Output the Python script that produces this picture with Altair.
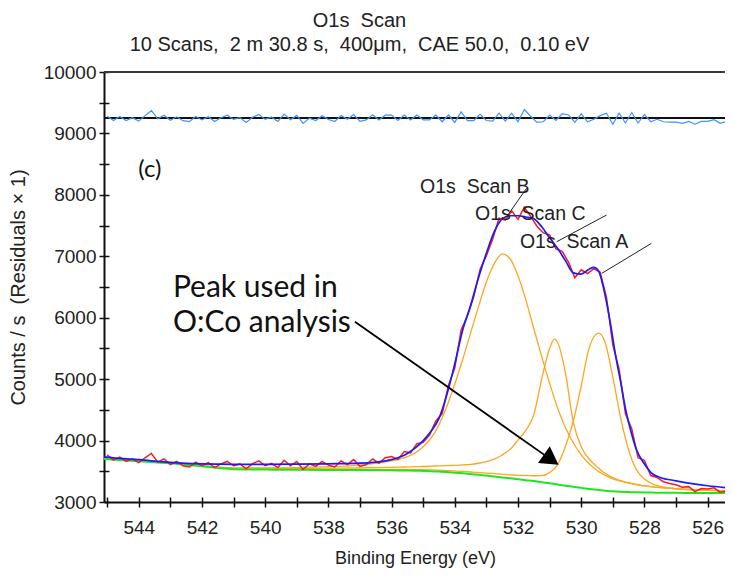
import altair as alt
import pandas as pd

# ---------------- data ----------------
X_TICKS = [545, 544, 543, 542, 541, 540, 539, 538, 537, 536, 535, 534, 533, 532, 531, 530, 529, 528, 527, 526]
Y_TICKS = [3000, 3500, 4000, 4500, 5000, 5500, 6000, 6500, 7000, 7500, 8000, 8500, 9000, 9500, 10000]

GRID = [545.1, 544, 543, 542, 541, 540, 539, 538, 537, 536.5, 536, 535.75, 535.5, 535.25, 535,
        534.75, 534.5, 534.25, 534, 533.75, 533.5, 533.25, 533, 532.75, 532.5, 532.25, 532,
        531.75, 531.5, 531.25, 531, 530.75, 530.5, 530.25, 530, 529.75, 529.5, 529.25, 529,
        528.75, 528.5, 528.25, 528, 527.75, 527.5, 527, 526.5, 526, 525.45]

BACKGROUND = [3700, 3665, 3630, 3580, 3535, 3528, 3525, 3522, 3520, 3518, 3515, 3513, 3512, 3510, 3505,
              3500, 3495, 3487, 3478, 3467, 3455, 3442, 3430, 3415, 3400, 3385, 3370,
              3355, 3340, 3322, 3305, 3285, 3265, 3247, 3230, 3213, 3198, 3185, 3174,
              3167, 3162, 3158, 3155, 3153, 3151, 3149, 3147, 3146, 3145]

PEAK_B = [3710, 3675, 3640, 3590, 3555, 3555, 3560, 3575, 3600, 3630, 3670, 3700, 3740, 3800, 3900,
          4040, 4260, 4560, 4920, 5320, 5750, 6180, 6580, 6880, 7040, 6960, 6682,
          6287, 5820, 5367, 4934, 4534, 4213, 3964, 3766, 3622, 3513, 3438, 3377,
          3339, 3306, 3283, 3262, 3246, 3233, 3216, 3200, 3190, 3182]

C_E = [545.1, 544, 543, 542, 541, 540, 539, 538, 537, 536.5, 536, 535.75, 535.5, 535.25, 535,
       534.75, 534.5, 534.25, 534, 533.75, 533.5, 533.25, 533, 532.75, 532.5, 532.25, 532,
       531.75, 531.5, 531.25, 531, 530.85, 530.75, 530.5, 530.25, 530, 529.75, 529.5, 529.25, 529,
       528.75, 528.5, 528.25, 528, 527.75, 527.5, 527, 526.5, 526, 525.45]
PEAK_C = [3707, 3673, 3639, 3591, 3549, 3545, 3546, 3550, 3555, 3560, 3565, 3567, 3571, 3576, 3578,
          3583, 3589, 3593, 3596, 3604, 3611, 3631, 3659, 3698, 3766, 3857, 4007,
          4170, 4420, 5000, 5500, 5650, 5600, 5106, 4300, 3900, 3700, 3576, 3468, 3398,
          3349, 3314, 3285, 3263, 3247, 3233, 3215, 3203, 3193, 3185]

A_E = [545.1, 544, 543, 542, 541, 540, 539, 538, 537, 536.5, 536, 535.75, 535.5, 535.25, 535,
       534.75, 534.5, 534.25, 534, 533.75, 533.5, 533.25, 533, 532.75, 532.5, 532.25, 532,
       531.75, 531.5, 531.25, 531, 530.75, 530.5, 530.25, 530, 529.75, 529.45, 529.25, 529,
       528.75, 528.5, 528.25, 528, 527.75, 527.5, 527, 526.5, 526, 525.45]
PEAK_A = [3705, 3670, 3636, 3588, 3543, 3536, 3535, 3532, 3533, 3531, 3530, 3530, 3530, 3528, 3525,
          3522, 3518, 3512, 3506, 3497, 3488, 3480, 3471, 3461, 3451, 3442, 3434,
          3432, 3427, 3429, 3478, 3604, 3903, 4318, 4888, 5508, 5750, 5608, 5036,
          4364, 3847, 3523, 3374, 3296, 3253, 3218, 3198, 3188, 3178]

ENV_E = [545.1, 544.5, 544, 543.5, 543, 542.5, 542, 541, 540, 539, 538, 537, 536.5, 536, 535.5,
         535.25, 535, 534.75, 534.5, 534.25, 534, 533.75, 533.5, 533.25, 533, 532.75, 532.5,
         532.25, 532, 531.75, 531.5, 531.25, 531, 530.75, 530.5, 530.25, 530, 529.75, 529.6,
         529.45, 529.3, 529.1, 528.9, 528.75, 528.6, 528.4, 528.25, 528, 527.75, 527.5, 527,
         526.5, 526, 525.45]
ENVELOPE = [3735, 3705, 3690, 3665, 3645, 3630, 3620, 3612, 3612, 3615, 3622, 3632, 3650, 3690, 3790,
            3880, 4000, 4150, 4360, 4750, 5250, 5800, 6200, 6650, 7050, 7400, 7610,
            7660, 7660, 7640, 7610, 7480, 7300, 7130, 6930, 6730, 6710, 6790, 6820,
            6760, 6500, 5980, 5350, 4950, 4520, 4100, 3850, 3620, 3460, 3400, 3345,
            3300, 3265, 3235]

# raw counts every 0.2 eV from 545.0 eV downwards
RAW_COUNTS = [3770, 3680, 3730, 3660, 3700, 3640, 3720, 3790, 3650, 3700,
              3610, 3660, 3590, 3570, 3650, 3590, 3640, 3560, 3620, 3660,
              3590, 3620, 3540, 3625, 3670, 3590, 3630, 3560, 3680, 3590,
              3660, 3530, 3620, 3580, 3660, 3600, 3570, 3670, 3610, 3690,
              3580, 3610, 3700, 3630, 3720, 3740, 3690, 3820, 3800, 3950,
              3970, 4090, 4320, 4440, 4900, 5180, 5800, 6030, 6340, 6790,
              7010, 7280, 7620, 7590, 7740, 7600, 7800, 7650, 7490, 7380,
              7350, 7120, 7080, 6900, 6650, 6780, 6720, 6800, 6740, 6330,
              5560, 5160, 4440, 4190, 3720, 3680, 3430, 3400, 3330, 3300,
              3280, 3240, 3250, 3170, 3220, 3210, 3230, 3160, 3180]

RESIDUALS = [9280, 9210, 9275, 9210, 9255, 9200, 9290, 9370, 9238, 9295,
             9215, 9270, 9207, 9192, 9276, 9220, 9272, 9194, 9255, 9296,
             9228, 9258, 9178, 9263, 9308, 9228, 9267, 9196, 9315, 9224,
             9293, 9162, 9250, 9209, 9288, 9226, 9194, 9292, 9230, 9308,
             9196, 9220, 9302, 9220, 9297, 9300, 9210, 9300, 9220, 9300,
             9220, 9220, 9300, 9190, 9300, 9180, 9350, 9210, 9210, 9310,
             9210, 9200, 9330, 9200, 9330, 9190, 9390, 9280, 9180, 9190,
             9300, 9210, 9320, 9300, 9180, 9320, 9190, 9230, 9290, 9330,
             9150, 9330, 9170, 9340, 9170, 9310, 9190, 9230, 9190, 9185,
             9185, 9165, 9195, 9150, 9195, 9195, 9225, 9165, 9195]
RESIDUAL_ZERO = 9250

LABEL_TEXT = ["O1s\u00a0 Scan B", "O1s\u00a0 Scan C", "O1s\u00a0 Scan A"]
LABEL_E = [535.1, 533.36, 531.94]
LABEL_V = [8127, 7687, 7231]
LEADER_E1 = [531.73, 529.2, 527.78]
LEADER_V1 = [8107, 7671, 7210]
LEADER_E2 = [532.36, 530.78, 529.35]
LEADER_V2 = [7643, 7236, 6722]

NOTE_LINES = ["Peak used in", "O:Co analysis"]
NOTE_E = [542.92, 542.92]
NOTE_V = [6340, 5772]
PANEL_TAG = "(c)"
TAG_E, TAG_V = 543.65, 8404
ARROW_E = [537.16, 530.95]
ARROW_V = [5933, 3690]

TITLE = "O1s\u00a0 Scan"
SUBTITLE = "10 Scans,\u00a0 2 m 30.8 s,\u00a0 400μm,\u00a0 CAE 50.0,\u00a0 0.10 eV"

# ---------------- tables ----------------
raw_E = [round(545.0 - 0.2 * i, 1) for i in range(len(RAW_COUNTS))]
res_E = [round(545.0 - 0.2 * i, 1) for i in range(len(RESIDUALS))]

df_bg = pd.DataFrame({"E": GRID, "V": BACKGROUND})
df_peaks = pd.concat([
    pd.DataFrame({"E": GRID, "V": PEAK_B, "peak": "B"}),
    pd.DataFrame({"E": C_E, "V": PEAK_C, "peak": "C"}),
    pd.DataFrame({"E": A_E, "V": PEAK_A, "peak": "A"}),
])
df_env = pd.DataFrame({"E": ENV_E, "V": ENVELOPE})
df_raw = pd.DataFrame({"E": raw_E, "V": RAW_COUNTS})
df_res = pd.DataFrame({"E": res_E, "V": RESIDUALS})
df_lab = pd.DataFrame({"E": LABEL_E, "V": LABEL_V, "t": LABEL_TEXT})
df_lead = pd.DataFrame({"E": LEADER_E1, "V": LEADER_V1, "E2": LEADER_E2, "V2": LEADER_V2})
df_note = pd.DataFrame({"E": NOTE_E, "V": NOTE_V, "t": NOTE_LINES})
df_tag = pd.DataFrame({"E": [TAG_E], "V": [TAG_V], "t": [PANEL_TAG]})
df_arrow = pd.DataFrame({"E": [ARROW_E[0]], "V": [ARROW_V[0]], "E2": [ARROW_E[1]], "V2": [ARROW_V[1]]})
df_head = pd.DataFrame({"E": [ARROW_E[1]], "V": [ARROW_V[1]]})

# ---------------- scales & axes ----------------
FONT = "Liberation Sans"
xs = alt.Scale(domain=[525.45, 545.1], reverse=True, nice=False, zero=False)
ys = alt.Scale(domain=[3000, 10000], nice=False, zero=False)

x_main = alt.Axis(orient="bottom", values=X_TICKS, format="d",
                  labelExpr="datum.value % 2 == 0 ? datum.label : ''",
                  tickSize=5, tickWidth=1.5, tickColor="#111", domainColor="#111", domainWidth=2,
                  labelFont=FONT, labelFontSize=19, labelColor="#222", labelPadding=11,
                  labelOverlap=False, labelFlush=False, grid=False,
                  title="Binding Energy (eV)", titleFont=FONT, titleFontSize=18,
                  titleFontWeight="normal", titleColor="#222", titleX=311, titleY=56,
                  titleAlign="center", titleBaseline="middle")
y_main = alt.Axis(orient="left", values=Y_TICKS, format="d",
                  labelExpr="datum.value % 1000 == 0 ? datum.label : ''",
                  tickSize=5, tickWidth=1.5, tickColor="#111", domainColor="#111", domainWidth=2,
                  labelFont=FONT, labelFontSize=19, labelColor="#222", labelPadding=3,
                  labelOverlap=False, labelFlush=False, grid=False,
                  title="Counts / s\u00a0 (Residuals × 1)", titleFont=FONT, titleFontSize=20,
                  titleFontWeight="normal", titleColor="#222", titleX=-86, titleY=215,
                  titleAngle=270, titleAlign="center", titleBaseline="middle")
x_inner = alt.Axis(orient="bottom", values=X_TICKS, offset=-5, tickSize=5, tickWidth=1.5,
                   tickColor="#111", domain=False, labels=False, grid=False, title=None)
y_inner = alt.Axis(orient="left", values=Y_TICKS, offset=-5, tickSize=5, tickWidth=1.5,
                   tickColor="#111", domain=False, labels=False, grid=False, title=None)


def X(field="E", axis=None):
    return alt.X(f"{field}:Q", scale=xs, axis=axis)


def Y(field="V", axis=None):
    return alt.Y(f"{field}:Q", scale=ys, axis=axis)


axis_layer = alt.Chart(df_bg).mark_line(opacity=0).encode(x=X(axis=x_main), y=Y(axis=y_main))
inner_layer = alt.Chart(df_bg).mark_line(opacity=0).encode(x=X(axis=x_inner), y=Y(axis=y_inner))

top_rule = alt.Chart(df_bg).mark_rule(color="#3a3a3a", strokeWidth=2).encode(
    y=alt.Y(datum=10000, scale=ys, axis=None))
zero_rule = alt.Chart(df_bg).mark_rule(color="#111", strokeWidth=1.5).encode(
    y=alt.Y(datum=RESIDUAL_ZERO, scale=ys, axis=None))

residual = alt.Chart(df_res).mark_line(color="#3d94ff", strokeWidth=1.2, clip=True).encode(
    x=X(), y=Y())
peaks = alt.Chart(df_peaks).mark_line(color="#ffa620", strokeWidth=1.3, interpolate="monotone", clip=True).encode(
    x=X(), y=Y(), detail="peak:N")
background = alt.Chart(df_bg).mark_line(color="#1ee61e", strokeWidth=2, interpolate="monotone", clip=True).encode(
    x=X(), y=Y())
raw = alt.Chart(df_raw).mark_line(color="#ff1a1a", strokeWidth=1.5, clip=True).encode(
    x=X(), y=Y())
envelope = alt.Chart(df_env).mark_line(color="#1a1aff", strokeWidth=1.7, interpolate="monotone", clip=True).encode(
    x=X(), y=Y())

leaders = alt.Chart(df_lead).mark_rule(color="#222", strokeWidth=1).encode(
    x=X(), y=Y(), x2="E2:Q", y2="V2:Q")
labels = alt.Chart(df_lab).mark_text(font=FONT, fontSize=19.5, color="#222", align="left", baseline="middle").encode(
    x=X(), y=Y(), text="t:N")

arrow_line = alt.Chart(df_arrow).mark_rule(color="#000", strokeWidth=1.8).encode(
    x=X(), y=Y(), x2="E2:Q", y2="V2:Q")
arrow_head = alt.Chart(df_head).mark_point(shape="triangle-right", filled=True, size=420, angle=35,
                                           color="#000", opacity=1).encode(x=X(), y=Y())
note = alt.Chart(df_note).mark_text(font="Lato", fontSize=30, color="#111", align="left",
                                    baseline="alphabetic").encode(x=X(), y=Y(), text="t:N")
tag = alt.Chart(df_tag).mark_text(font="Lato", fontSize=24, color="#111", align="center",
                                  baseline="middle").encode(x=X(), y=Y(), text="t:N")

chart = alt.layer(
    axis_layer, inner_layer, top_rule, zero_rule, residual, peaks, background, raw, envelope,
    leaders, labels, arrow_line, arrow_head, note, tag
).resolve_axis(x="independent", y="independent").properties(
    width=621, height=430,
    autosize=alt.AutoSizeParams(type="none"),
    padding={"left": 96, "top": 64, "right": 0, "bottom": 70},
    title=alt.TitleParams(text=TITLE, subtitle=SUBTITLE,
                          anchor="middle", font=FONT, subtitleFont=FONT, fontSize=20,
                          subtitleFontSize=20, fontWeight="normal", color="#222",
                          subtitleColor="#222", offset=8, subtitlePadding=4, dx=-55),
).configure_view(stroke=None).configure(background="white")

chart.save("out.html", embed_options={"renderer": "svg", "actions": False})
